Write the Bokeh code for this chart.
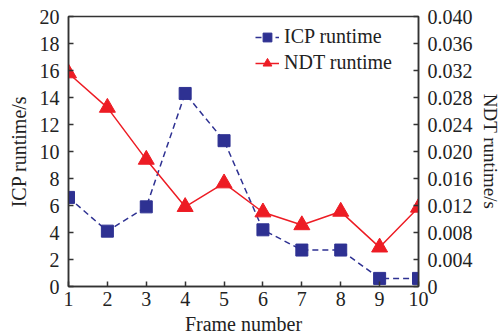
from bokeh.plotting import figure
from bokeh.models import Range1d, LinearAxis, FixedTicker, Legend, LegendItem
from bokeh.embed import file_html
from bokeh.resources import INLINE

frames = [1, 2, 3, 4, 5, 6, 7, 8, 9, 10]
icp_runtime = [6.6, 4.1, 5.9, 14.3, 10.8, 4.2, 2.7, 2.7, 0.6, 0.6]
ndt_runtime = [0.0316, 0.0265, 0.0188, 0.0118, 0.0153, 0.0110, 0.0091, 0.0111, 0.0058, 0.0117]
left_ticks = [0, 2, 4, 6, 8, 10, 12, 14, 16, 18, 20]
right_ticks = [0, 0.004, 0.008, 0.012, 0.016, 0.020, 0.024, 0.028, 0.032, 0.036, 0.040]
right_tick_labels = ["0", "0.004", "0.008", "0.012", "0.016", "0.020", "0.024", "0.028", "0.032", "0.036", "0.040"]

FONT = "Liberation Serif"
BLUE = "#2E3192"
RED = "#ED1C24"
AX = "#333333"

p = figure(width=502, height=335, frame_width=350, frame_height=270,
           x_range=Range1d(1, 10), y_range=Range1d(0, 20),
           output_backend="svg", toolbar_location=None,
           min_border_left=68, min_border_right=84, min_border_top=16, min_border_bottom=49)
p.extra_y_ranges = {"ndt": Range1d(0, 0.04)}
p.grid.visible = False
p.outline_line_color = AX
p.outline_line_width = 1.5

p.xaxis.ticker = FixedTicker(ticks=frames)
p.yaxis.ticker = FixedTicker(ticks=left_ticks)
p.xaxis.axis_label = "Frame number"
p.yaxis.axis_label = "ICP runtime/s"

right = LinearAxis(y_range_name="ndt", axis_label="NDT runtime/s",
                   ticker=FixedTicker(ticks=right_ticks))
right.major_label_overrides = {t: l for t, l in zip(right_ticks, right_tick_labels)}
p.add_layout(right, "right")

for ax in [p.xaxis[0], p.yaxis[0], right]:
    ax.major_tick_in = 5
    ax.major_tick_out = 0
    ax.minor_tick_line_color = None
    ax.axis_line_color = AX
    ax.axis_line_width = 1.5
    ax.major_tick_line_color = AX
    ax.major_tick_line_width = 1.5
    ax.major_label_text_font = FONT
    ax.major_label_text_font_size = "20px"
    ax.major_label_text_color = "#222222"
    ax.axis_label_text_font = FONT
    ax.axis_label_text_font_size = "20px"
    ax.axis_label_text_font_style = "normal"
    ax.axis_label_text_color = "#222222"

p.yaxis[0].major_label_standoff = 9
p.yaxis[0].axis_label_standoff = 7
right.major_label_standoff = 9
right.axis_label_standoff = 4
right.axis_label_text_font_size = "19px"
p.xaxis[0].major_label_standoff = 5
p.xaxis[0].axis_label_standoff = 4

icp_line = p.line(frames, icp_runtime, line_color=BLUE, line_width=1.5, line_dash="6 4")
icp_pts = p.scatter(frames, icp_runtime, marker="square", size=12, fill_color=BLUE, line_color=BLUE)
ndt_line = p.line(frames, ndt_runtime, line_color=RED, line_width=1.5, y_range_name="ndt")
ndt_pts = p.scatter(frames, ndt_runtime, marker="triangle", size=16, fill_color=RED, line_color=RED,
                    y_range_name="ndt")

legend = Legend(items=[LegendItem(label="ICP runtime", renderers=[icp_line, icp_pts]),
                       LegendItem(label="NDT runtime", renderers=[ndt_line, ndt_pts])],
                location=(187, 212), border_line_color=None, background_fill_alpha=0,
                label_text_font=FONT, label_text_font_size="20px", label_text_color="#222222",
                glyph_width=24, glyph_height=22, spacing=3, padding=0, margin=0,
                label_standoff=5)
p.add_layout(legend, "center")

open("out.html", "w").write(file_html(p, INLINE))
